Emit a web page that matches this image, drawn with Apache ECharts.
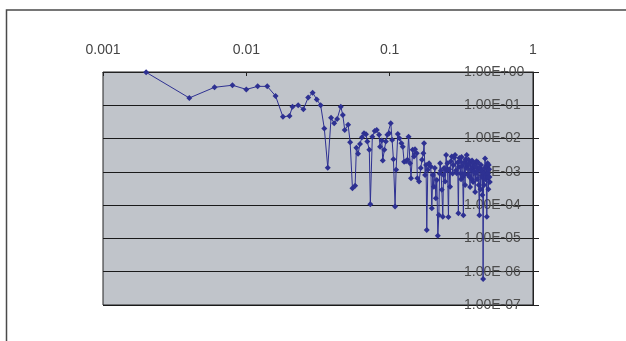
<!DOCTYPE html>
<html>
<head>
<meta charset="utf-8">
<script src="https://cdn.jsdelivr.net/npm/echarts@6/dist/echarts.min.js"></script>
<style>
html,body{margin:0;padding:0;background:#fff;}
#chart{width:626px;height:341px;}
</style>
</head>
<body>
<div id="chart"></div>
<script>
// x tick labels (log axis, decades)
const xTickLabels = ['0.001', '0.01', '0.1', '1'];
// y tick labels (log axis, decades)
const yTickLabels = ['1.00E-07','1.00E-06','1.00E-05','1.00E-04','1.00E-03','1.00E-02','1.00E-01','1.00E+00'];

// series x values
const xValues = [
  0.002,0.004,0.006,0.008,0.010,0.012,0.014,0.016,0.018,0.020,
  0.021,0.023,0.025,0.027,0.029,0.031,0.033,0.035,0.037,0.039,
  0.041,0.043,0.0456,0.0471,0.0486,0.0513,0.0530,0.0550,0.0574,0.0586,
  0.0602,0.0621,0.0641,0.0662,0.0684,0.0698,0.0721,0.0733,0.0757,0.0787,
  0.0813,0.0843,0.0857,0.0881,0.0895,0.0918,0.0940,0.0964,0.0991,0.1018,
  0.1040,0.1062,0.1091,0.1109,0.1140,0.1169,0.1208,0.1234,0.1261,0.1301,
  0.1330,0.1355,0.1388,0.1409,0.1448,0.1479,0.1503,0.1545,0.1560,0.1603,
  0.1647,0.1682,0.1718,0.1738,0.1766,0.1795,0.1815,0.1845,0.1884,0.1936,
  0.1968,
  0.2000,0.2032,0.2065,0.2099,0.2133,0.2168,0.2203,0.2230,0.2250,0.2280,
  0.2312,0.2349,0.2375,0.2399,0.2438,0.2478,0.2505,0.2530,0.2571,0.2600,
  0.2638,0.2670,0.2711,0.2750,0.2786,0.2820,0.2858,0.2900,0.2939,0.2980,
  0.3015,0.3040,0.3064,0.3100,0.3125,0.3150,0.3175,0.3200,0.3235,0.3268,
  0.3300,0.3332,0.3360,0.3386,0.3420,0.3451,0.3490,0.3524,0.3550,0.3581,
  0.3610,0.3640,0.3670,0.3699,0.3730,0.3758,0.3790,0.3819,0.3850,0.3881,
  0.3915,0.3945,0.3975,0.4008,0.4040,0.4073,0.4105,0.4139,0.4180,0.4227,
  0.4265,0.4308,0.4340,0.4378,0.4405,0.4435,0.4460,0.4486,0.4520,0.4559,
  0.4595,0.4632,0.4670,0.4707,0.4735,0.4761,0.4790,0.4823,0.4855,0.4885,
  0.4910,0.4940,0.4970,0.4995
];
// series y values
const yValues = [
  0.98,0.166,0.347,0.40,0.30,0.37,0.37,0.19,0.045,0.048,
  0.091,0.10,0.076,0.17,0.24,0.15,0.10,0.020,0.00134,0.042,
  0.029,0.039,0.091,0.051,0.018,0.026,0.0078,0.00032,0.00038,0.0053,
  0.0035,0.0069,0.011,0.0145,0.0135,0.0081,0.0046,0.000107,0.0114,0.017,
  0.018,0.013,0.0057,0.0087,0.0022,0.0046,0.0081,0.013,0.0145,0.029,
  0.0091,0.0024,0.000091,0.00115,0.0138,0.0102,0.0072,0.0057,0.0020,0.0021,
  0.0023,0.0114,0.0018,0.00064,0.0046,0.0029,0.0048,0.0036,0.00064,0.00051,
  0.0013,0.0023,0.0036,0.0072,0.00081,0.0016,0.000018,0.00115,0.0018,0.00144,
  0.000081,
  0.00081,0.00036,0.0013,0.00016,0.00057,0.000012,0.000051,0.0009,0.0018,0.0011,
  0.00029,0.000045,0.0008,0.0013,0.00051,0.0032,0.0011,0.0018,0.000044,0.0012,
  0.00036,0.0021,0.0029,0.0009,0.0016,0.0027,0.0032,0.0011,0.00091,0.0019,
  0.000057,0.0014,0.0026,0.0021,0.0009,0.0006,0.0028,0.0015,0.0007,0.00005,
  0.0019,0.0009,0.0004,0.0024,0.0013,0.0032,0.0016,0.0008,0.0023,0.0017,
  0.0007,0.00035,0.0020,0.0012,0.0006,0.0022,0.0014,0.0005,0.0018,0.0010,
  0.0015,0.00025,0.0009,0.0014,0.0021,0.0006,0.0011,0.0019,0.0004,0.00005,
  0.0013,0.0003,0.0016,0.0011,0.0007,0.0002,0.0010,0.0000006,0.0009,0.0004,
  0.0013,0.0025,0.0006,0.0008,0.0015,0.000045,0.0007,0.0018,0.0009,0.0003,
  0.0016,0.0012,0.0007,0.0005
];

const data = xValues.map((x, i) => [x, yValues[i]]);
const chart = echarts.init(document.getElementById('chart'), null, {renderer: 'canvas'});
const font = "'Liberation Sans', Arial, sans-serif";

chart.setOption({
  animation: false,
  backgroundColor: '#ffffff',
  graphic: [{
    type: 'rect',
    shape: {x: 6.5, y: 10, width: 700, height: 400},
    style: {fill: 'none', stroke: '#4a4a4a', lineWidth: 1.5},
    silent: true, z: 100
  }],
  grid: {
    left: 103, right: 93, top: 72, bottom: 36,
    show: true, backgroundColor: '#c0c4ca', borderColor: '#222', borderWidth: 1
  },
  xAxis: {
    type: 'log', logBase: 10, min: 0.001, max: 1, position: 'top',
    axisLine: {show: true, lineStyle: {color: '#222', width: 1}},
    axisTick: {show: true, inside: true, length: 4, lineStyle: {color: '#222'}},
    splitLine: {show: false},
    axisLabel: {
      fontFamily: font, fontSize: 14, color: '#444', margin: 15,
      formatter: v => {
        const e = Math.round(Math.log10(v));
        return xTickLabels[e + 3];
      }
    }
  },
  yAxis: {
    type: 'log', logBase: 10, min: 1e-7, max: 1, interval: 1, position: 'right',
    axisLine: {show: true, lineStyle: {color: '#222', width: 1}},
    axisTick: {show: true, inside: false, length: 6, lineStyle: {color: '#222'}},
    splitLine: {show: true, lineStyle: {color: '#1a1a1a', width: 1}},
    axisLabel: {
      inside: true, align: 'left', margin: 69,
      fontFamily: font, fontSize: 14, color: '#4d4d4d',
      showMinLabel: true, showMaxLabel: true,
      formatter: v => {
        const e = Math.round(Math.log10(v));
        return yTickLabels[e + 7];
      }
    }
  },
  series: [{
    type: 'line',
    data: data,
    symbol: 'diamond',
    symbolSize: 6,
    showAllSymbol: true,
    itemStyle: {color: '#2e3192'},
    lineStyle: {color: '#2e3192', width: 1}
  }]
});
</script>
</body>
</html>
